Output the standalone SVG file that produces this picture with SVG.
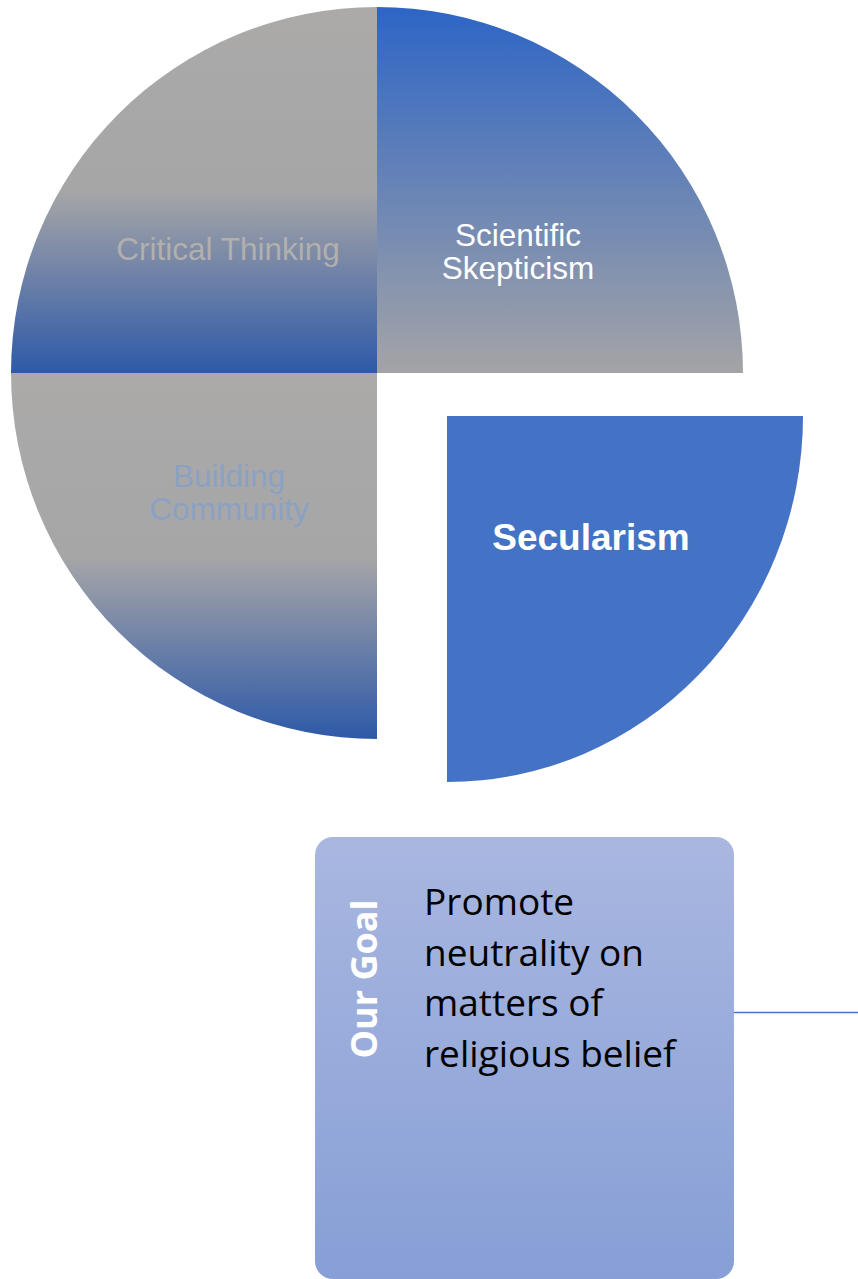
<svg xmlns="http://www.w3.org/2000/svg" width="858" height="1279" viewBox="0 0 858 1279">
  <style>
    .lbl { font-family: "Liberation Sans", Arial, sans-serif; font-size: 31.5px; text-anchor: middle; }
    .body { font-family: "Open Sans", "Noto Sans", sans-serif; font-size: 37px; fill: #000; }
  </style>
  <defs>
    <linearGradient id="gGrayBlue" x1="0" y1="0" x2="0" y2="1">
      <stop offset="0" stop-color="#abaaa9"/>
      <stop offset="0.5" stop-color="#a7a6a7"/>
      <stop offset="1" stop-color="#2e59a8"/>
    </linearGradient>
    <linearGradient id="gBlueGray" x1="0" y1="0" x2="0" y2="1">
      <stop offset="0" stop-color="#2d65c6"/>
      <stop offset="1" stop-color="#a4a4a6"/>
    </linearGradient>
    <linearGradient id="gBox" x1="0" y1="0" x2="0" y2="1">
      <stop offset="0" stop-color="#a9b7e0"/>
      <stop offset="1" stop-color="#879fd6"/>
    </linearGradient>
  </defs>

  <g id="critical-thinking">
    <path d="M377,373 L11,373 A366,366 0 0 1 377,7 Z" fill="url(#gGrayBlue)"/>
    <text class="lbl" x="228" y="260" fill="#b2afad">Critical Thinking</text>
  </g>

  <g id="scientific-skepticism">
    <path d="M377,373 L377,7 A366,366 0 0 1 743,373 Z" fill="url(#gBlueGray)"/>
    <text class="lbl" x="518" y="246" fill="#ffffff">Scientific</text>
    <text class="lbl" x="518" y="279" fill="#ffffff">Skepticism</text>
  </g>

  <g id="building-community">
    <path d="M377,373 L377,739 A366,366 0 0 1 11,373 Z" fill="url(#gGrayBlue)"/>
    <text class="lbl" x="229" y="487" fill="#8ba1c4">Building</text>
    <text class="lbl" x="229" y="520" fill="#8ba1c4">Community</text>
  </g>

  <g id="secularism">
    <path d="M447,416 L803,416 A356,366 0 0 1 447,782 Z" fill="#4472c4"/>
    <text x="591" y="550" font-family="Liberation Sans, Arial, sans-serif" font-size="37" font-weight="bold" text-anchor="middle" fill="#ffffff">Secularism</text>
  </g>

  <g id="our-goal">
    <rect x="315" y="837" width="419" height="442" rx="18" ry="18" fill="url(#gBox)"/>
    <text transform="translate(377,979) rotate(-90)" font-family="Open Sans, Noto Sans, sans-serif" font-size="36" font-weight="bold" text-anchor="middle" fill="#ffffff">Our Goal</text>
    <text class="body" x="424" y="915">Promote</text>
    <text class="body" x="424" y="966">neutrality on</text>
    <text class="body" x="424" y="1016">matters of</text>
    <text class="body" x="424" y="1067">religious belief</text>
  </g>

  <g id="connectors">
    <line x1="734" y1="1012.5" x2="858" y2="1012.5" stroke="#4472c4" stroke-width="1.5"/>
  </g>
</svg>
